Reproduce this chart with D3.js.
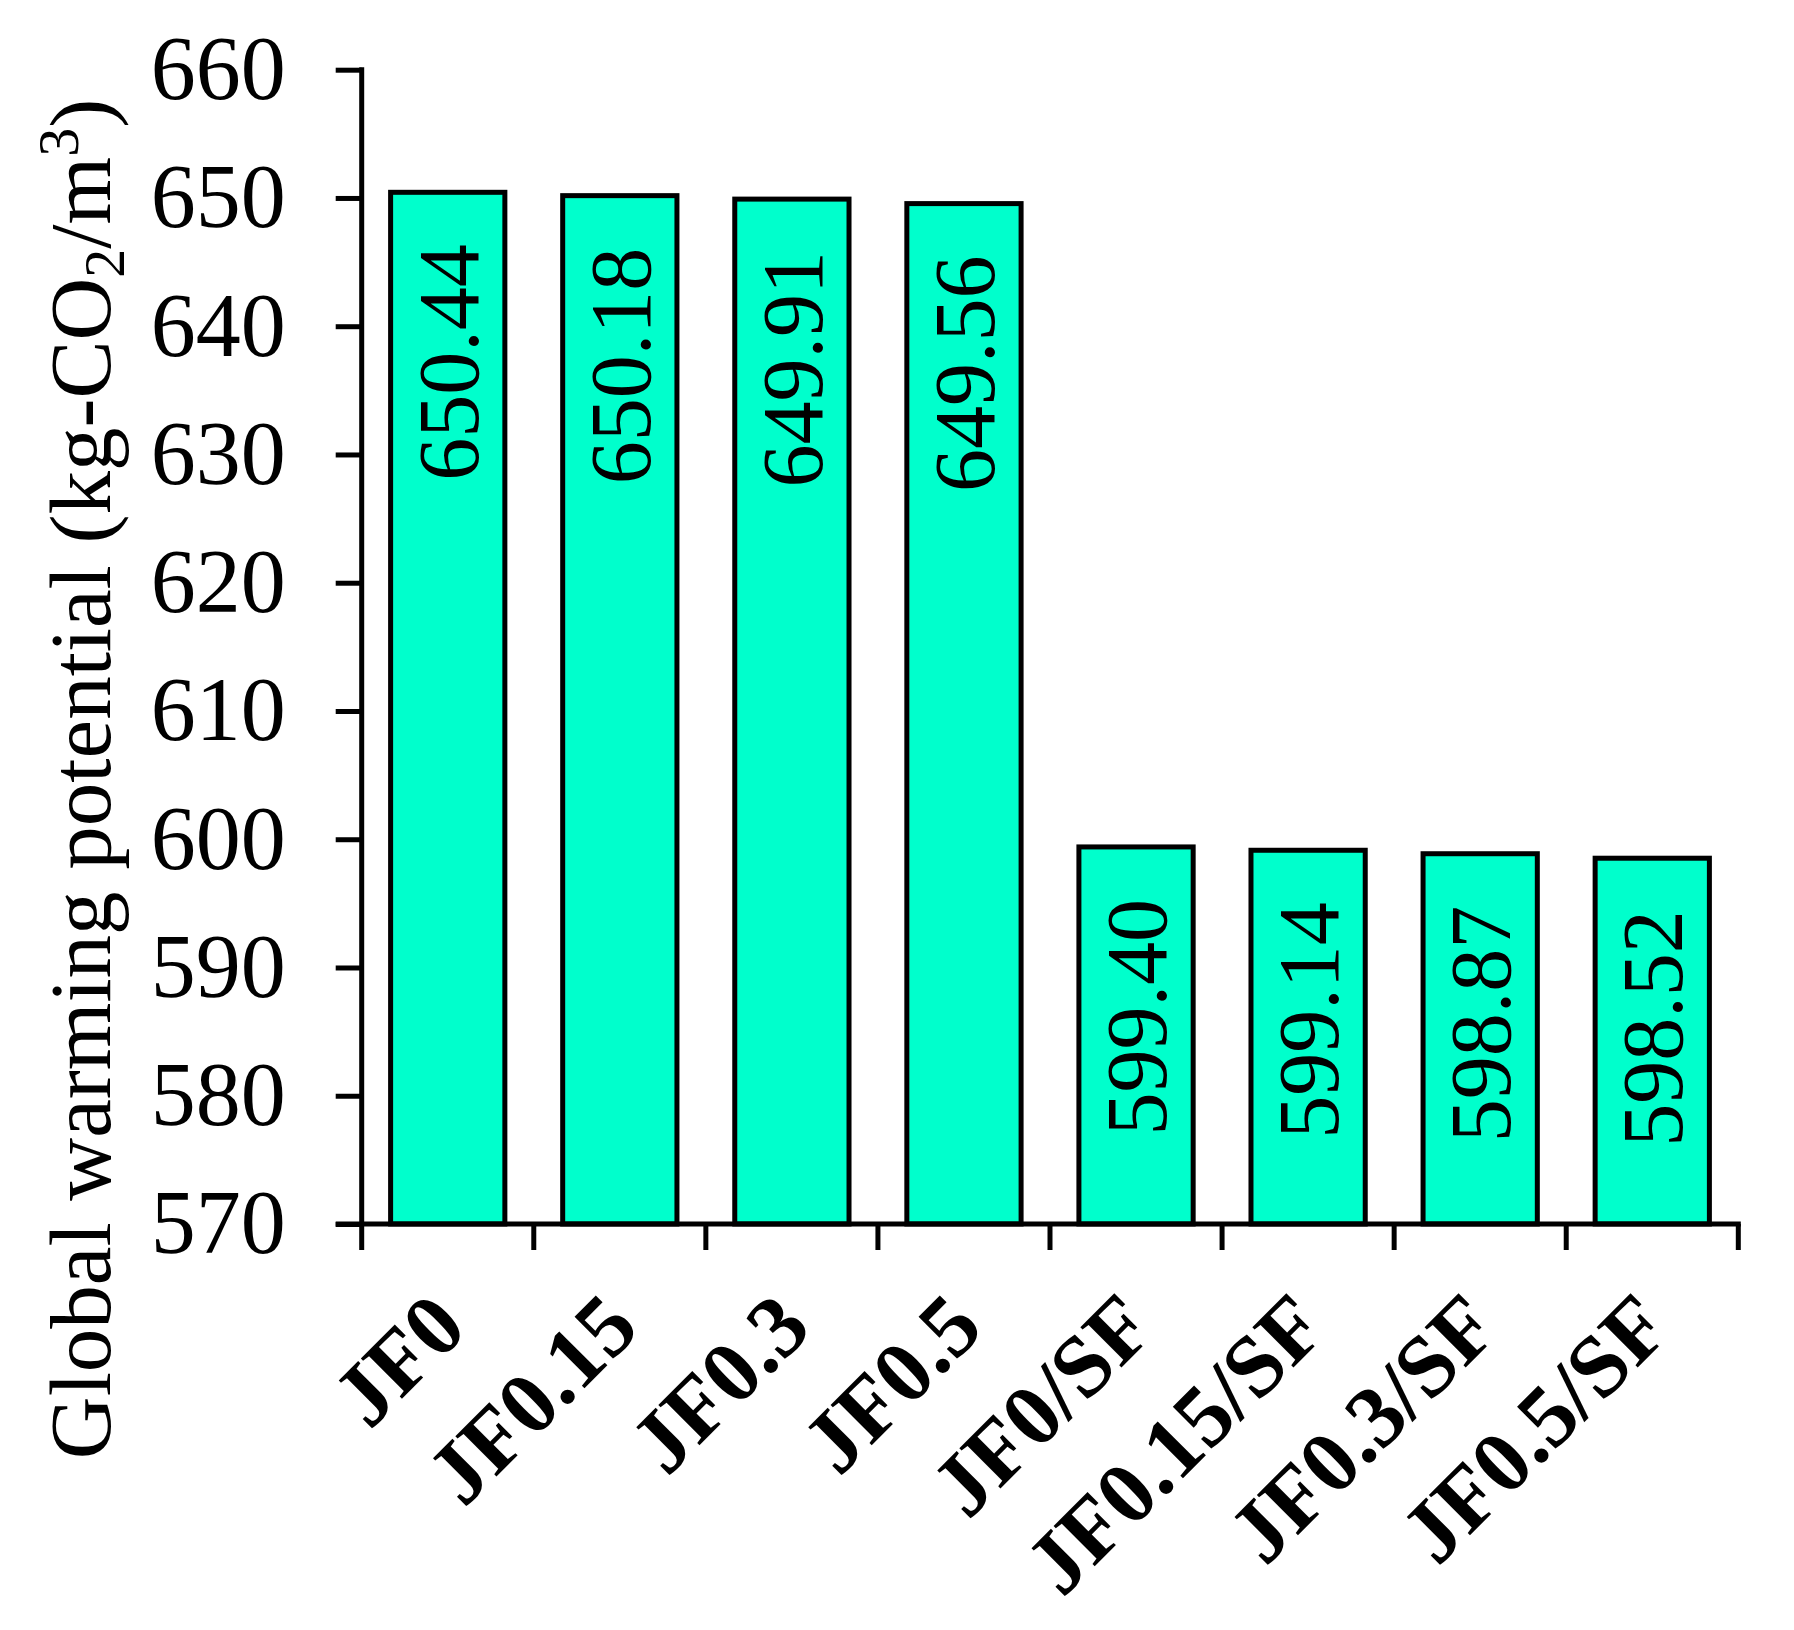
<!DOCTYPE html>
<meta charset="utf-8">
<style>
body { margin: 0; background: #fff; }
svg { display: block; }
text { font-family: "Liberation Serif", "Times New Roman", serif; fill: #000; }
.bar { fill: #00ffcc; stroke: #000; stroke-width: 5px; }
.axis path, .axis line { stroke: #000; stroke-width: 5px; }
.axis text { font-size: 90px; }
.xlab { font-size: 88px; font-weight: bold; }
.val { font-size: 86px; }
.title { font-size: 87px; }
</style>
<div id="chart"></div>
<script src="https://d3js.org/d3.v7.min.js"></script>
<script>
var categories = ["JF0", "JF0.15", "JF0.3", "JF0.5", "JF0/SF", "JF0.15/SF", "JF0.3/SF", "JF0.5/SF"];
var gwp = [650.44, 650.18, 649.91, 649.56, 599.40, 599.14, 598.87, 598.52];
var valueLabels = ["650.44", "650.18", "649.91", "649.56", "599.40", "599.14", "598.87", "598.52"];
var yTicks = [570, 580, 590, 600, 610, 620, 630, 640, 650, 660];

var width = 1794, height = 1630;
var plotLeft = 361.7, plotRight = 1738.3, plotTop = 69.7, plotBottom = 1224;

var svg = d3.select("#chart").append("svg")
    .attr("width", width)
    .attr("height", height);

var x = d3.scaleBand()
    .domain(categories)
    .range([plotLeft, plotRight])
    .padding(0);

var y = d3.scaleLinear()
    .domain([570, 660])
    .range([plotBottom, plotTop]);

var data = categories.map(function(c, i) { return {cat: c, value: gwp[i], label: valueLabels[i]}; });

var barW = x.bandwidth() * 0.664;

// bars
svg.selectAll(".bar")
    .data(data)
  .enter().append("rect")
    .attr("class", "bar")
    .attr("x", function(d) { return x(d.cat) + (x.bandwidth() - barW) / 2; })
    .attr("width", barW)
    .attr("y", function(d) { return y(d.value); })
    .attr("height", function(d) { return plotBottom - y(d.value); });

// value labels inside bars, rotated
svg.selectAll(".val")
    .data(data)
  .enter().append("text")
    .attr("class", "val")
    .attr("text-anchor", "end")
    .attr("dy", "0.35em")
    .attr("transform", function(d) {
      return "translate(" + (x(d.cat) + x.bandwidth() / 2) + "," + (y(d.value) + 52) + ")rotate(-90)";
    })
    .text(function(d) { return d.label; });

// y axis
var yAxis = svg.append("g")
    .attr("class", "axis")
    .attr("transform", "translate(" + plotLeft + ",0)")
    .call(d3.axisLeft(y).tickValues(yTicks).tickSize(26).tickSizeOuter(0).tickPadding(50));
yAxis.select(".domain").remove();
yAxis.selectAll("text").attr("dy", "0.32em");
yAxis.append("line")
    .attr("x1", 0).attr("x2", 0)
    .attr("y1", plotTop - 2.5).attr("y2", plotBottom);

// x axis line and boundary ticks
var xg = svg.append("g").attr("class", "axis");
xg.append("line")
    .attr("x1", plotLeft - 26).attr("x2", plotRight + 2.5)
    .attr("y1", plotBottom).attr("y2", plotBottom);
var bounds = categories.map(function(c) { return x(c); }).concat([x.range()[1]]);
xg.selectAll(".xtick")
    .data(bounds)
  .enter().append("line")
    .attr("x1", function(d) { return d; })
    .attr("x2", function(d) { return d; })
    .attr("y1", plotBottom)
    .attr("y2", plotBottom + 26);

// category labels
svg.selectAll(".xlab")
    .data(categories)
  .enter().append("text")
    .attr("class", "xlab")
    .attr("text-anchor", "end")
    .attr("transform", function(d) {
      return "translate(" + (x(d) + x.bandwidth() / 2 + 22) + "," + (plotBottom + 107) + ")rotate(-45)";
    })
    .text(function(d) { return d; });

// y title
var t = svg.append("text")
    .attr("class", "title")
    .attr("text-anchor", "middle")
    .attr("transform", "translate(110,779)rotate(-90)");
t.append("tspan").text("Global warming potential (kg-CO");
t.append("tspan").attr("font-size", "58px").attr("dy", "14").text("2");
t.append("tspan").attr("dy", "-14").text("/m");
t.append("tspan").attr("font-size", "58px").attr("dy", "-32").text("3");
t.append("tspan").attr("dy", "32").text(")");
</script>
